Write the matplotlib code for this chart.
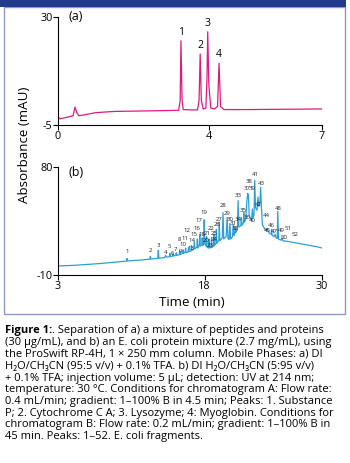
import matplotlib
matplotlib.use("Agg")
import matplotlib.pyplot as plt
from matplotlib.patches import Rectangle

plt.rcParams['font.family'] = ['Open Sans', 'DejaVu Sans']

# chromatogram (a): time (min), absorbance (mAU)
time_a = [0.0, 0.05, 0.2, 0.4, 0.45, 0.5, 0.55, 0.65, 1.0, 1.5, 2.5, 3.0, 3.2,
          3.24, 3.26, 3.29, 3.32, 3.5, 3.7, 3.74, 3.77, 3.8, 3.85, 3.92, 3.95,
          3.97, 4.0, 4.05, 4.15, 4.23, 4.27, 4.31, 4.4, 5.0, 6.0, 7.0]
abs_a = [-2.3, -3.0, -2.6, -2.0, 0.8, -1.0, -2.0, -1.8, -1.0, -0.6, -0.4, -0.3, -0.2,
         3.0, 22.3, 3.0, 0.0, -0.1, -0.1, 3.0, 18.0, 3.0, 0.2, 0.5, 10.0,
         25.2, 8.0, 0.5, 0.2, 1.0, 15.0, 1.0, 0.0, 0.0, 0.1, 0.2]
peak_ids_a = ['1', '2', '3', '4']
peak_t_a = [3.26, 3.77, 3.97, 4.27]
peak_h_a = [22.3, 18.0, 25.2, 15.0]

# chromatogram (b)
time_b = [3.0, 4.5, 6.0, 7.5, 9.0, 10.0, 10.06, 10.12, 11.5, 12.4, 12.44, 12.5,
          13.2, 13.26, 13.32, 13.9, 14.0, 14.1, 14.4, 14.45, 14.5, 14.7, 14.75, 14.8,
          15.05, 15.1, 15.15, 15.4, 15.45, 15.5, 15.75, 15.8, 15.85, 16.0, 16.05, 16.1,
          16.3, 16.35, 16.4, 16.6, 16.65, 16.7, 16.9, 16.95, 17.0, 17.2, 17.25, 17.3,
          17.45, 17.5, 17.55, 17.7, 17.75, 17.8, 17.9, 17.95, 18.02, 18.15, 18.2, 18.25,
          18.4, 18.45, 18.5, 18.65, 18.7, 18.75, 18.9, 18.95, 19.0, 19.15, 19.2, 19.25,
          19.45, 19.5, 19.55, 19.8, 19.88, 19.95, 20.2, 20.3, 20.38, 20.5, 20.58, 20.65,
          20.85, 20.93, 21.0, 21.1, 21.15, 21.2, 21.35, 21.42, 21.5, 21.7, 21.75, 21.8,
          21.95, 22.0, 22.05, 22.2, 22.3, 22.4, 22.48, 22.55, 22.7, 22.8, 22.88, 22.95,
          23.05, 23.12, 23.2, 23.35, 23.45, 23.55, 23.65, 23.72, 23.8, 23.9, 24.1, 24.3,
          24.4, 24.6, 24.8, 24.85, 24.9, 25.1, 25.2, 25.3, 25.42, 25.48, 25.55, 25.8,
          25.9, 26.0, 26.5, 27.5, 28.5, 29.5, 30.0]
abs_b = [-2.5, -2.0, -1.2, -0.3, 0.8, 1.6, 3.8, 1.7, 2.5, 3.2, 5.5, 3.3,
         3.8, 10.5, 4.0, 4.5, 6.5, 4.8, 5.2, 8.0, 5.3, 5.8, 7.5, 5.8,
         6.5, 8.5, 6.3, 7.0, 10.0, 7.0, 8.0, 11.0, 8.0, 9.0, 12.5, 8.5,
         9.0, 13.0, 9.5, 10.0, 14.5, 10.5, 11.5, 17.5, 12.0, 13.0, 20.0, 12.5,
         15.0, 24.0, 14.0, 15.0, 21.0, 14.5, 16.0, 36.0, 16.0, 14.0, 22.0, 13.0,
         12.5, 20.0, 12.5, 13.0, 21.0, 13.0, 14.0, 24.0, 14.5, 16.0, 28.0, 16.5,
         19.0, 34.0, 18.5, 21.0, 42.0, 20.0, 22.0, 38.0, 20.5, 19.5, 33.0, 20.0,
         22.0, 32.0, 23.0, 25.0, 30.0, 25.5, 28.0, 52.0, 30.0, 31.0, 38.0, 31.5,
         33.0, 42.0, 34.0, 36.0, 50.0, 58.0, 56.0, 40.0, 37.0, 36.0, 45.0, 38.0,
         40.0, 69.0, 46.0, 44.0, 55.0, 47.0, 50.0, 63.0, 48.0, 32.0, 29.0, 27.0,
         28.5, 25.0, 24.0, 28.0, 23.0, 22.0, 24.0, 21.0, 20.5, 43.0, 20.0, 19.0,
         21.0, 18.5, 18.0, 16.5, 15.0, 13.5, 12.5]
label_t_b = [10.06, 12.44, 13.26, 14.04, 14.41, 14.68, 15.06, 15.40, 15.57, 15.77,
             16.01, 16.18, 16.62, 16.69, 16.86, 17.20, 17.43, 17.70, 17.94, 18.10,
             18.30, 18.70, 18.55, 19.00, 18.95, 19.30, 19.51, 19.91, 20.32, 20.59,
             20.93, 21.10, 21.44, 21.44, 21.95, 22.36, 22.29, 22.56, 22.87, 22.90,
             23.14, 23.48, 23.82, 24.33, 24.39, 24.84, 25.07, 25.51, 25.86, 26.13,
             26.53, 27.21]
label_v_b = [9.7, 10.3, 14.4, 9.1, 13.9, 8.3, 11.6, 19.4, 9.7, 15.3,
             20.8, 27.2, 12.5, 18.9, 23.6, 28.6, 35.5, 23.6, 42.5, 18.5,
             24.5, 28.5, 14.5, 19.5, 24.5, 32.0, 36.1, 48.0, 41.6, 36.1,
             32.7, 29.1, 56.4, 36.1, 43.9, 38.3, 62.5, 68.0, 62.5, 35.3,
             73.6, 48.6, 66.1, 39.4, 26.9, 31.4, 26.4, 45.8, 26.9, 21.6,
             28.6, 23.6]

caption_lines = [
    ". Separation of a) a mixture of peptides and proteins",
    "(30 \u00b5g/mL), and b) an E. coli protein mixture (2.7 mg/mL), using",
    "the ProSwift RP-4H, 1 \u00d7 250 mm column. Mobile Phases: a) DI",
    "H\u2082O/CH\u2083CN (95:5 v/v) + 0.1% TFA. b) DI H\u2082O/CH\u2083CN (5:95 v/v)",
    "+ 0.1% TFA; injection volume: 5 \u00b5L; detection: UV at 214 nm;",
    "temperature: 30 \u00b0C. Conditions for chromatogram A: Flow rate:",
    "0.4 mL/min; gradient: 1\u2013100% B in 4.5 min; Peaks: 1. Substance",
    "P; 2. Cytochrome C A; 3. Lysozyme; 4: Myoglobin. Conditions for",
    "chromatogram B: Flow rate: 0.2 mL/min; gradient: 1\u2013100% B in",
    "45 min. Peaks: 1\u201352. E. coli fragments.",
]

W, H = 350, 463
fig = plt.figure(figsize=(W / 100, H / 100), dpi=100)
fig.patch.set_facecolor('white')

# frame and top band
fig.add_artist(Rectangle((4 / W, 1 - 314 / H), 341 / W, 307 / H, transform=fig.transFigure,
                         facecolor='white', edgecolor='#8d9ac9', lw=1.0, zorder=0))
fig.add_artist(Rectangle((0, 1 - 7 / H), 346 / W, 7 / H, transform=fig.transFigure,
                         facecolor='#223a8c', edgecolor='none', zorder=1))

def style(ax, xlim, ylim, xt, yt):
    ax.set_xlim(*xlim)
    ax.set_ylim(*ylim)
    ax.set_facecolor('none')
    for s in ['top', 'right']:
        ax.spines[s].set_visible(False)
    for s in ['left', 'bottom']:
        ax.spines[s].set_linewidth(0.8)
    ax.set_xticks(xt)
    ax.set_xticklabels([str(v) for v in xt])
    ax.set_yticks(yt)
    ax.set_yticklabels([str(v) for v in yt])
    ax.tick_params(length=3.5, width=0.8, pad=0.5, labelsize=7.8)

left, width = 58 / W, 264 / W
ax1 = fig.add_axes([left, 1 - 125 / H, width, 108 / H])
ax1.plot(time_a, abs_a, color='#e0197d', lw=0.9)
for lab, t, h in zip(peak_ids_a, peak_t_a, peak_h_a):
    ax1.text(t, h + 1.0, lab, ha='center', va='bottom', fontsize=7.5)
ax1.text(0.04, 1.0, '(a)', transform=ax1.transAxes, fontsize=9, va='center')
style(ax1, (0, 7), (-5, 30), [0, 4, 7], [-5, 30])

ax2 = fig.add_axes([left, 1 - 275 / H, width, 108 / H])
ax2.plot(time_b, abs_b, color='#2b9fd9', lw=0.9)
for i, (t, v) in enumerate(zip(label_t_b, label_v_b)):
    ax2.text(t, v, str(i + 1), ha='center', va='center', fontsize=4.3, color='#222222')
ax2.text(0.04, 0.95, '(b)', transform=ax2.transAxes, fontsize=9, va='center')
style(ax2, (3, 30), (-10, 80), [3, 18, 30], [-10, 80])

fig.text(25 / W, 1 - 145 / H, 'Absorbance (mAU)', rotation=90, ha='center', va='center', fontsize=9.6)
fig.text(192 / W, 1 - 303 / H, 'Time (min)', ha='center', va='center', fontsize=9.6)

# caption
cap = fig.add_axes([0, 0, 1, 1])
cap.axis('off')
cap.set_xlim(0, W)
cap.set_ylim(H, 0)
y0, dy, fs = 331, 11.75, 8.0
bold = cap.text(5, y0, 'Figure 1:', fontsize=fs, fontweight='bold', va='center', ha='left')
cap.annotate(caption_lines[0], xy=(1, 0.5), xycoords=bold, va='center', ha='left', fontsize=fs)
for k, line in enumerate(caption_lines[1:], start=1):
    cap.text(5, y0 + k * dy, line, fontsize=fs, va='center', ha='left')

fig.savefig('out.png', dpi=100)
